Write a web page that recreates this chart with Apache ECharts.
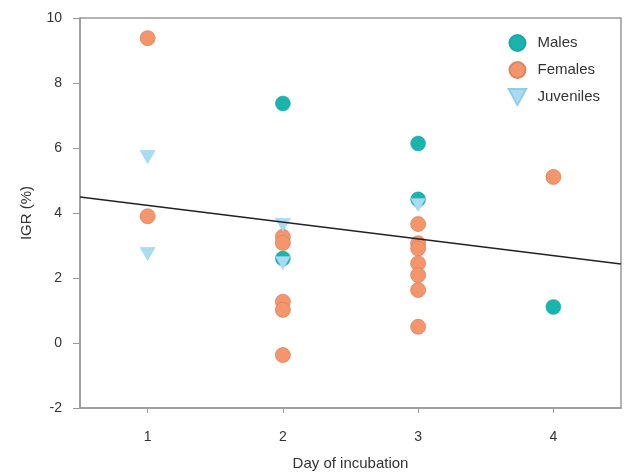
<!DOCTYPE html>
<html>
<head>
<meta charset="utf-8">
<script src="https://cdn.jsdelivr.net/npm/echarts@6/dist/echarts.min.js"></script>
<style>html,body{margin:0;padding:0;background:#fff}#c{width:625px;height:473px}</style>
</head>
<body>
<div id="c"></div>
<script>
var males = [[2, 7.37], [2, 2.6], [3, 6.14], [3, 4.42], [4, 1.11]];
var females = [[1, 9.38], [1, 3.9], [2, 3.27], [2, 3.08], [2, 1.27], [2, 1.02], [2, -0.37],
  [3, 3.66], [3, 3.07], [3, 2.91], [3, 2.45], [3, 2.09], [3, 1.63], [3, 0.5], [4, 5.11]];
var juveniles = [[1, 5.72], [1, 2.74], [2, 3.63], [2, 2.46], [3, 4.25]];
var fitLine = [[0.5, 4.49], [4.5, 2.43]];
var xTicks = [1, 2, 3, 4];

var tri = 'path://M0,0 L12,0 L6,11 Z';
var chart = echarts.init(document.getElementById('c'));
var font = 'Liberation Sans, Arial, sans-serif';
chart.setOption({
  animation: false,
  grid: {left: 80, right: 4, top: 18, bottom: 65, show: true, borderColor: '#9a9a9a', borderWidth: 1.5,
    containLabel: false, outerBoundsMode: 'none'},
  legend: {
    orient: 'vertical', right: 20, top: 29, itemGap: 9, itemWidth: 30, itemHeight: 16,
    symbolKeepAspect: true,
    textStyle: {fontFamily: font, fontSize: 15, color: '#333'},
    data: [{name: 'Males', icon: 'circle'}, {name: 'Females', icon: 'circle'}, {name: 'Juveniles', icon: tri}]
  },
  xAxis: {
    type: 'value', min: 0.5, max: 4.5, interval: 0.5,
    axisLine: {show: true, onZero: false, lineStyle: {color: '#9a9a9a', width: 1.5}},
    axisTick: {show: true, length: 5, lineStyle: {color: '#9a9a9a'}, customValues: xTicks},
    axisLabel: {fontFamily: font, fontSize: 14, color: '#333', margin: 22, customValues: xTicks,
      formatter: function (v) { return xTicks.indexOf(v) >= 0 ? String(v) : ''; }},
    splitLine: {show: false},
    name: 'Day of incubation', nameLocation: 'middle', nameGap: 48,
    nameTextStyle: {fontFamily: font, fontSize: 15, color: '#333'}
  },
  yAxis: {
    type: 'value', min: -2, max: 10, interval: 2,
    axisLine: {show: true, onZero: false, lineStyle: {color: '#9a9a9a', width: 1.5}},
    axisTick: {show: true, length: 7, lineStyle: {color: '#9a9a9a'}},
    axisLabel: {fontFamily: font, fontSize: 14, color: '#333', margin: 18},
    splitLine: {show: false},
    name: 'IGR (%)', nameLocation: 'middle', nameGap: 46, nameRotate: 90,
    nameTextStyle: {fontFamily: font, fontSize: 15, color: '#333'}
  },
  series: [
    {name: 'Fit', type: 'line', data: fitLine, symbol: 'none', lineStyle: {color: '#222', width: 1.5}, z: 5, silent: true},
    {name: 'Males', type: 'scatter', data: males, symbol: 'circle', symbolSize: 15,
      itemStyle: {color: '#1bb3ad', opacity: 1, borderColor: '#1aa8a3', borderWidth: 0.5}, z: 3},
    {name: 'Females', type: 'scatter', data: females, symbol: 'circle', symbolSize: 15,
      itemStyle: {color: '#f4956b', opacity: 1, borderColor: '#d98560', borderWidth: 0.8}, z: 3},
    {name: 'Juveniles', type: 'scatter', data: juveniles, symbol: tri, symbolSize: [15, 13],
      itemStyle: {color: '#a9dcf2', opacity: 1, borderColor: '#92cde6', borderWidth: 0.5}, z: 4}
  ]
});
</script>
</body>
</html>
